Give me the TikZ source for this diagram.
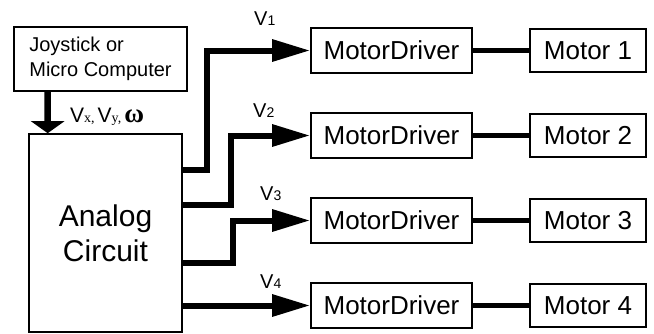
\documentclass[tikz,border=0pt]{standalone}
\usepackage{fontspec}
\setmainfont{Liberation Sans}
\newfontfamily\serfont{Liberation Serif}
\usetikzlibrary{arrows.meta}
\newcommand{\Vlab}[1]{{\fontsize{20bp}{20bp}\selectfont V}{\fontsize{14bp}{14bp}\selectfont #1}}
\newcommand{\Vsub}[1]{{\fontsize{21bp}{21bp}\selectfont V}{\serfont\fontsize{14bp}{14bp}\selectfont #1}}
\tikzset{
  every node/.style={inner sep=0pt},
  src/.style  = {rectangle, draw=black, line width=1.6bp, align=left,
                 minimum width=173bp, minimum height=64bp,
                 font=\fontsize{20bp}{25bp}\selectfont},
  ckt/.style  = {rectangle, draw=black, line width=1.6bp, align=center,
                 minimum width=153bp, minimum height=198bp,
                 font=\fontsize{30bp}{35bp}\selectfont},
  drv/.style  = {rectangle, draw=black, line width=1.6bp, align=center,
                 minimum width=161bp, minimum height=45bp,
                 font=\fontsize{26bp}{26bp}\selectfont},
  mot/.style  = {rectangle, draw=black, line width=1.6bp, align=center,
                 minimum width=116bp, minimum height=43bp,
                 font=\fontsize{26bp}{26bp}\selectfont},
  lab/.style  = {anchor=base west},
  inarrow/.style = {-{Triangle[length=12bp,width=33bp]}, line width=6.5bp},
  sig/.style     = {-{Triangle[length=38bp,width=21bp]}, line width=6bp},
  link/.style    = {line width=5bp},
}
\begin{document}
\begin{tikzpicture}[x=1bp, y=-1bp]
  \useasboundingbox (0,0) rectangle (654,333);

  % ---- input side ----
  \node[src] (joy) at (100.5,59)  {Joystick or\\Micro Computer};
  \node[ckt] (ana) at (105.5,233) {Analog\\Circuit};

  \draw[inarrow] ([xshift=34.5bp]joy.south west) -- ([xshift=19.5bp]ana.north west);
  \node[lab] (vin) at (70,122) {\Vsub{x,}\hspace{3bp}\Vsub{y,}\hspace{3bp}{\serfont\bfseries\fontsize{27bp}{27bp}\selectfont ω}};

  % ---- drivers and motors ----
  \node[drv] (drv1) at (391.5,50.5)  {MotorDriver};
  \node[drv] (drv2) at (391.5,135.5) {MotorDriver};
  \node[drv] (drv3) at (391.5,220.5) {MotorDriver};
  \node[drv] (drv4) at (391.5,305.5) {MotorDriver};

  \node[mot] (mot1) at (588,50.5)  {Motor 1};
  \node[mot] (mot2) at (588,135.5) {Motor 2};
  \node[mot] (mot3) at (588,220.5) {Motor 3};
  \node[mot] (mot4) at (588,305.5) {Motor 4};

  % ---- signal lines ----
  \draw[sig] ([yshift=63bp]ana.east)  -- ++(24,0) |- (drv1.west);
  \draw[sig] ([yshift=28bp]ana.east)  -- ++(48,0) |- (drv2.west);
  \draw[sig] ([yshift=-30bp]ana.east) -- ++(50,0) |- (drv3.west);
  \draw[sig] (ana.east |- drv4.west)  -- (drv4.west);

  \node[lab] (v1) at (254,25)  {\Vlab{1}};
  \node[lab] (v2) at (253,117) {\Vlab{2}};
  \node[lab] (v3) at (260,200) {\Vlab{3}};
  \node[lab] (v4) at (260,288) {\Vlab{4}};

  % ---- driver to motor ----
  \draw[link] (drv1) -- (mot1);
  \draw[link] (drv2) -- (mot2);
  \draw[link] (drv3) -- (mot3);
  \draw[link] (drv4) -- (mot4);
\end{tikzpicture}
\end{document}
